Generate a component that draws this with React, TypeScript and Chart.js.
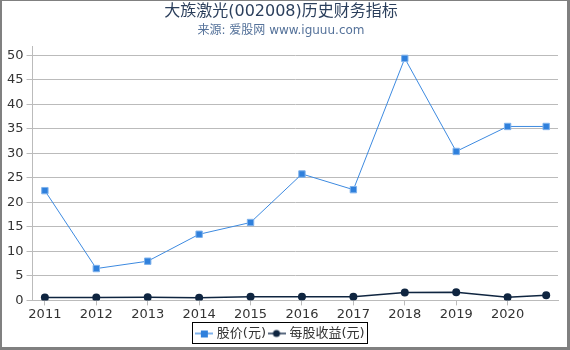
import React, { useEffect, useRef } from "react";
import { Chart, registerables } from "chart.js";

Chart.register(...registerables);

const title = "大族激光(002008)历史财务指标";
const subtitle = "来源: 爱股网 www.iguuu.com";
const years = [2011, 2012, 2013, 2014, 2015, 2016, 2017, 2018, 2019, 2020, 2020.75];
const tickYears = [2011, 2012, 2013, 2014, 2015, 2016, 2017, 2018, 2019, 2020];
const yTicks = [0, 5, 10, 15, 20, 25, 30, 35, 40, 45, 50];
const price = [22.4, 6.5, 8.0, 13.5, 15.9, 25.8, 22.6, 49.4, 30.4, 35.5, 35.5];
const eps = [0.6, 0.6, 0.65, 0.55, 0.75, 0.75, 0.75, 1.6, 1.65, 0.65, 1.05];
const seriesNames = ["股价(元)", "每股收益(元)"];

const FONT = "'DejaVu Sans', 'Noto Sans CJK SC', sans-serif";

function legendIcon(color: string, lineColor: string, shape: "rect" | "circle") {
  const c = document.createElement("canvas");
  c.width = 18;
  c.height = 10;
  const g = c.getContext("2d")!;
  g.strokeStyle = lineColor;
  g.lineWidth = 2;
  g.beginPath();
  g.moveTo(0, 5);
  g.lineTo(18, 5);
  g.stroke();
  g.fillStyle = color;
  if (shape === "rect") {
    g.fillRect(6, 2, 7, 7);
  } else {
    g.beginPath();
    g.arc(9, 5, 3.5, 0, Math.PI * 2);
    g.fill();
  }
  return c;
}

const frame = {
  id: "frame",
  afterDraw(chart: any) {
    const { ctx, width, height } = chart;
    ctx.save();
    ctx.fillStyle = "#808080";
    ctx.fillRect(0, 0, width, 1);
    ctx.fillRect(0, 0, 2, height);
    ctx.fillRect(width - 3, 0, 3, height);
    ctx.fillRect(0, height - 3, width, 3);
    const lg = chart.legend;
    if (lg && lg.legendHitBoxes && lg.legendHitBoxes.length) {
      const hb = lg.legendHitBoxes;
      const l = Math.min(...hb.map((b: any) => b.left));
      const r = Math.max(...hb.map((b: any) => b.left + b.width));
      const t = Math.min(...hb.map((b: any) => b.top));
      const btm = Math.max(...hb.map((b: any) => b.top + b.height));
      ctx.strokeStyle = "#000";
      ctx.lineWidth = 1;
      ctx.strokeRect(Math.round(l) - 4.5, Math.round(t) - 4.5, Math.round(r - l) + 8, Math.round(btm - t) + 8);
    }
    ctx.restore();
  },
};

export default function App() {
  const ref = useRef<HTMLCanvasElement>(null);
  useEffect(() => {
    document.body.style.margin = "0";
    const icons = [
      legendIcon("#2f80dc", "#7fb2ec", "rect"),
      legendIcon("#0f2540", "#5a6a80", "circle"),
    ];
    const chart = new Chart(ref.current!, {
      type: "line",
      data: {
        datasets: [
          {
            label: seriesNames[0],
            data: years.map((x, i) => ({ x, y: price[i] })),
            borderColor: "#3d8ae0",
            backgroundColor: "#2f80dc",
            borderWidth: 1,
            pointStyle: "rect",
            pointRadius: 4.5,
            pointBorderColor: "#7fb2ec",
            pointBorderWidth: 1,
          },
          {
            label: seriesNames[1],
            data: years.map((x, i) => ({ x, y: eps[i] })),
            borderColor: "#0f2540",
            backgroundColor: "#0f2540",
            borderWidth: 1.5,
            pointStyle: "circle",
            pointRadius: 4,
            pointBorderWidth: 0,
          },
        ],
      },
      options: {
        responsive: false,
        animation: false,
        layout: { padding: { left: 4, right: 12, top: 2, bottom: 0 } },
        plugins: {
          title: {
            display: true,
            text: title,
            color: "#2b3f5c",
            font: { family: FONT, size: 16, weight: "normal" },
            padding: { top: 0, bottom: 2 },
          },
          subtitle: {
            display: true,
            text: subtitle,
            color: "#55729a",
            font: { family: FONT, size: 12 },
            padding: { top: 0, bottom: 9 },
          },
          legend: {
            position: "bottom",
            labels: {
              usePointStyle: true,
              color: "#333",
              font: { family: FONT, size: 13 },
              padding: 4,
              generateLabels(chart: any) {
                return chart.data.datasets.map((d: any, i: number) => ({
                  text: d.label,
                  fillStyle: d.backgroundColor,
                  strokeStyle: d.backgroundColor,
                  lineWidth: 0,
                  pointStyle: icons[i],
                  datasetIndex: i,
                  fontColor: "#333",
                }));
              },
            },
          },
          tooltip: { enabled: false },
        },
        scales: {
          x: {
            type: "linear",
            min: 2010.76,
            max: 2020.98,
            afterBuildTicks(scale: any) {
              scale.ticks = tickYears.map((v) => ({ value: v }));
            },
            ticks: {
              color: "#333",
              font: { family: FONT, size: 13 },
              maxRotation: 0,
              autoSkip: false,
              padding: 1,
              callback: (v: any) => String(v),
            },
            grid: { drawOnChartArea: false, color: "#bbb", tickLength: 5 },
            border: { color: "#bbb" },
          },
          y: {
            min: 0,
            max: 51.8,
            afterBuildTicks(scale: any) {
              scale.ticks = yTicks.map((v) => ({ value: v }));
            },
            ticks: {
              color: "#333",
              font: { family: FONT, size: 13 },
              padding: 3,
              callback: (v: any) => String(v),
            },
            grid: { color: "#bbb", tickLength: 6 },
            border: { color: "#bbb" },
          },
        },
      },
      plugins: [frame],
    });
    return () => chart.destroy();
  }, []);
  return (
    <div style={{ width: 570, height: 350 }}>
      <canvas ref={ref} width={570} height={350} />
    </div>
  );
}
